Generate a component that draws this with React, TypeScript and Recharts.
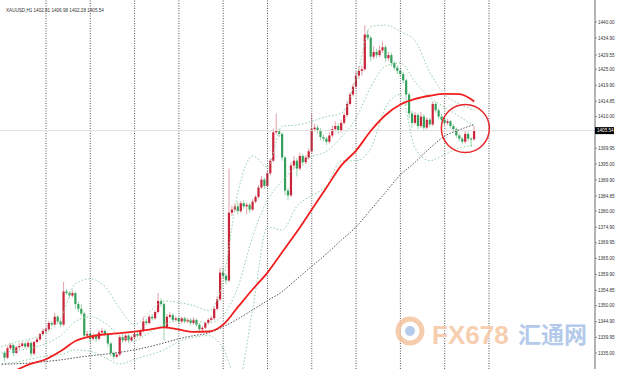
import React from 'react';
import { ComposedChart, Bar, Line, XAxis, YAxis, ReferenceLine, ReferenceDot } from 'recharts';

// XAUUSD H1 – candles (open = previous close)
const firstOpen = 1335.0;
const closes = [
  1333.5, 1336.5, 1337.5, 1335.0, 1336.8, 1337.2, 1338.0, 1337.0, 1338.2, 1334.8,
  1338.5, 1339.3, 1341.0, 1342.0, 1342.5, 1344.5, 1344.0, 1346.5, 1345.0, 1344.0,
  1354.5, 1354.0, 1353.2, 1354.0, 1350.5, 1349.0, 1347.5, 1340.5, 1341.0, 1339.5,
  1340.5, 1339.5, 1341.5, 1342.0, 1341.0, 1338.0, 1335.0, 1333.8, 1334.5, 1340.0,
  1339.0, 1340.5, 1339.0, 1340.0, 1341.0, 1340.5, 1342.0, 1345.0, 1344.5, 1346.5,
  1346.0, 1348.0, 1351.5, 1350.5, 1343.0, 1346.5, 1347.0, 1345.5, 1346.0, 1345.0,
  1346.0, 1345.0, 1345.5, 1344.5, 1345.5, 1344.0, 1342.5, 1343.0, 1344.5, 1345.5,
  1346.0, 1349.0, 1352.0, 1360.5, 1359.5, 1358.0, 1379.5, 1380.5, 1381.5, 1380.0,
  1382.5, 1381.5, 1382.0, 1380.5, 1383.0, 1384.5, 1387.5, 1390.0, 1388.0, 1392.0,
  1396.0, 1405.0, 1405.5, 1404.5, 1397.0, 1386.5, 1385.0, 1394.5, 1396.0, 1393.5,
  1397.5, 1395.5, 1397.0, 1399.0, 1406.0, 1406.5, 1405.5, 1403.5, 1403.0, 1402.0,
  1404.0, 1406.0, 1407.0, 1405.5, 1408.0, 1410.5, 1414.0, 1417.0, 1419.5, 1423.0,
  1424.5, 1425.0, 1436.0, 1435.0, 1429.0, 1430.5, 1429.5, 1431.0, 1432.0, 1428.5,
  1429.5, 1427.0, 1425.5, 1424.5, 1423.5, 1421.5, 1417.0, 1411.0, 1408.0, 1410.5,
  1407.0, 1410.0, 1406.5, 1409.0, 1407.5, 1414.0, 1412.0, 1410.0, 1409.0, 1408.0,
  1408.5, 1407.0, 1406.0, 1404.0, 1403.0, 1402.0, 1404.5, 1403.0, 1402.81, 1405.54,
];
const wickUp = [
  0.6, 0.8, 0.7, 0.4, 0.5, 1.0, 0.6, 0.5, 0.8, 0.5,
  0.4, 0.6, 0.5, 0.8, 0.6, 0.7, 0.5, 1.2, 0.6, 0.5,
  3.0, 0.8, 0.6, 0.9, 0.5, 0.8, 1.5, 0.6, 1.0, 0.8,
  0.7, 0.6, 0.8, 1.0, 0.5, 0.5, 0.6, 0.5, 0.8, 0.6,
  1.2, 0.6, 0.7, 0.6, 0.5, 0.8, 0.5, 1.5, 0.8, 0.6,
  0.8, 0.6, 2.5, 0.8, 0.5, 0.8, 0.9, 0.6, 0.7, 0.5,
  0.6, 0.5, 0.6, 0.5, 0.8, 0.5, 0.5, 0.6, 0.5, 0.6,
  0.8, 0.6, 1.0, 1.5, 1.5, 0.6, 14.0, 1.2, 1.0, 1.5,
  0.8, 0.9, 0.8, 0.6, 0.8, 0.6, 0.8, 1.2, 0.6, 0.8,
  0.8, 1.2, 5.5, 0.6, 0.5, 0.5, 0.8, 1.0, 1.5, 0.8,
  1.0, 0.6, 0.8, 0.8, 5.0, 1.2, 0.8, 0.8, 0.7, 0.6,
  1.0, 1.2, 1.5, 0.8, 1.0, 0.8, 1.0, 0.8, 1.0, 1.2,
  1.5, 1.2, 3.0, 1.5, 0.6, 1.8, 1.0, 1.5, 1.8, 0.6,
  1.0, 0.8, 0.6, 0.8, 0.7, 0.8, 0.5, 0.6, 0.8, 1.0,
  0.6, 1.5, 0.8, 0.8, 0.6, 0.8, 0.6, 0.6, 0.8, 0.6,
  0.7, 0.5, 0.6, 0.5, 0.6, 0.6, 1.0, 0.8, 0.5, 1.44,
];
const wickDown = [
  1.2, 0.5, 0.6, 1.0, 0.4, 0.5, 0.5, 0.6, 0.4, 1.0,
  0.5, 0.5, 0.4, 0.5, 0.7, 0.5, 0.6, 0.4, 0.8, 0.8,
  0.5, 0.6, 0.8, 0.5, 1.5, 1.0, 0.8, 1.0, 0.8, 1.2,
  0.6, 1.0, 0.5, 0.6, 0.8, 1.0, 1.0, 0.8, 0.5, 0.5,
  0.8, 0.5, 0.8, 0.5, 0.6, 0.7, 0.5, 0.5, 0.8, 0.5,
  0.7, 0.5, 0.5, 0.8, 4.0, 0.5, 0.6, 0.8, 0.6, 0.8,
  0.7, 0.6, 0.5, 0.8, 0.6, 0.7, 0.8, 0.6, 0.5, 0.5,
  0.5, 0.6, 0.5, 0.5, 0.8, 1.2, 0.5, 1.0, 0.8, 1.0,
  0.6, 0.8, 2.5, 1.0, 0.5, 0.5, 0.5, 0.5, 1.0, 0.5,
  0.6, 0.5, 0.8, 1.0, 1.0, 1.5, 1.5, 0.5, 1.0, 2.5,
  0.6, 1.2, 0.6, 0.6, 0.5, 0.8, 1.0, 1.0, 0.8, 1.0,
  0.5, 0.6, 0.8, 1.0, 0.6, 0.5, 0.6, 0.5, 0.6, 0.5,
  1.0, 1.5, 0.5, 0.8, 1.5, 0.8, 1.0, 0.6, 0.8, 1.2,
  0.8, 1.0, 0.8, 1.0, 0.8, 1.0, 3.5, 1.5, 1.5, 0.6,
  1.0, 0.6, 1.2, 0.6, 0.8, 0.5, 0.8, 0.8, 0.6, 0.8,
  0.6, 0.8, 0.8, 0.8, 0.9, 0.8, 0.6, 0.8, 2.5, 0.52,
];

// indicators, sampled every 5 bars
const maIndex = [0, 5, 10, 15, 20, 25, 30, 35, 40, 45, 50, 55, 60, 65, 70, 75, 80, 85, 90, 95, 100, 105, 110, 115, 120, 125, 130, 135, 140, 145, 150, 155, 160];
const redMa = [null, 1329.6, 1331.6, 1333.0, 1335.6, 1338.8, 1340.2, 1340.9, 1341.3, 1341.8, 1342.4, 1343.1, 1342.4, 1341.7, 1341.8, 1344.0, 1349.6, 1355.2, 1360.5, 1367.0, 1373.5, 1380.5, 1387.5, 1394.5, 1399.2, 1405.5, 1410.5, 1413.8, 1415.6, 1416.6, 1417.2, 1417.1, 1414.8];
const blackMa = [1331.4, 1331.6, 1331.8, 1332.3, 1332.8, 1333.5, 1334.1, 1334.6, 1335.2, 1336.0, 1337.0, 1338.2, 1339.5, 1340.5, 1341.3, 1343.3, 1345.8, 1348.7, 1351.6, 1354.5, 1358.5, 1362.5, 1366.5, 1370.8, 1375.0, 1380.5, 1386.0, 1391.5, 1395.5, 1400.0, 1403.8, 1405.8, 1407.5];
const bandUp = [1337.0, 1338.5, 1339.5, 1341.5, 1346.0, 1357.0, 1358.5, 1356.0, 1349.0, 1344.0, 1348.0, 1351.5, 1351.0, 1350.0, 1348.5, 1358.0, 1386.0, 1397.5, 1394.0, 1407.0, 1407.3, 1408.5, 1410.0, 1411.0, 1422.0, 1438.5, 1439.0, 1437.0, 1434.0, 1424.0, 1417.0, 1414.0, 1412.0];
const bandMid = [1335.0, 1335.8, 1336.5, 1338.0, 1340.5, 1345.0, 1346.5, 1344.5, 1340.5, 1339.0, 1341.5, 1344.0, 1345.5, 1345.3, 1344.5, 1347.0, 1356.0, 1372.0, 1383.5, 1389.6, 1394.4, 1397.3, 1399.0, 1403.5, 1409.5, 1419.5, 1426.0, 1427.0, 1421.0, 1416.0, 1413.0, 1410.0, 1407.0];
const bandLow = [1331.6, 1332.1, 1333.1, 1334.1, 1334.5, 1336.0, 1335.5, 1333.5, 1331.5, 1333.0, 1334.4, 1336.0, 1338.6, 1340.0, 1340.5, 1336.4, 1326.0, 1349.0, 1375.0, 1374.0, 1381.6, 1385.0, 1388.0, 1396.0, 1396.0, 1400.0, 1413.0, 1417.0, 1400.0, 1396.0, 1398.0, 1400.0, 1401.0];

const priceTicks = [1440.0, 1434.9, 1429.55, 1425.0, 1419.9, 1414.85, 1410.0, 1405.54, 1399.95, 1395.0, 1389.9, 1384.85, 1380.0, 1374.9, 1369.95, 1365.0, 1359.9, 1354.85, 1350.0, 1344.9, 1339.95, 1335.0];
const lastPrice = 1405.54;
const daySeparators = [15, 30, 45, 60, 75, 90, 105, 120, 135, 150, 165];
const title = 'XAUUSD,H1  1402.81 1406.98 1402.28 1405.54';

const rows: any[] = [];
for (let i = 0; i <= 160; i++) rows.push({ i });
closes.forEach((c, k) => {
  const open = k === 0 ? firstOpen : closes[k - 1];
  rows[k + 1] = {
    ...rows[k + 1],
    open,
    close: c,
    high: Math.max(open, c) + wickUp[k],
    low: Math.min(open, c) - wickDown[k],
  };
});
maIndex.forEach((idx, k) => {
  rows[idx] = { ...rows[idx], red: redMa[k], black: blackMa[k], up: bandUp[k], mid: bandMid[k], lo: bandLow[k] };
});

const AXIS_X = 595;
const FONT = '"Liberation Sans", Arial, sans-serif';

const Candle = (props: any) => {
  const { x, y, width, height, payload } = props;
  if (!payload || payload.open == null) return null;
  const { open, close, high, low } = payload;
  const h = Math.abs(height);
  const top = Math.min(y, y + height);
  const k = h / (high - low);
  const yOf = (v: number) => top + (high - v) * k;
  const up = close >= open;
  const cx = x + width / 2;
  const bTop = yOf(Math.max(open, close));
  const bH = Math.max(1, Math.abs(yOf(open) - yOf(close)));
  return (
    <g>
      <line x1={cx} x2={cx} y1={top} y2={top + h} stroke={up ? '#e3a1a9' : '#9dd3ae'} strokeWidth={1} />
      <rect x={cx - 1.1} y={bTop} width={2.2} height={bH} fill={up ? '#c9243a' : '#35a05c'} />
    </g>
  );
};

const PriceTick = (props: any) => {
  const { y, payload } = props;
  const v = payload.value;
  if (Math.abs(v - lastPrice) < 0.001) {
    return (
      <g>
        <rect x={AXIS_X} y={y - 3.5} width={19} height={7} fill="#000" />
        <text x={AXIS_X + 2} y={y + 1.7} fontSize={4.6} fill="#fff" fontFamily={FONT}>{v.toFixed(2)}</text>
      </g>
    );
  }
  return (
    <g>
      <line x1={AXIS_X} x2={AXIS_X + 2} y1={y} y2={y} stroke="#777" strokeWidth={0.8} />
      <text x={AXIS_X + 3} y={y + 1.7} fontSize={4.6} fill="#333" fontFamily={FONT}>{v.toFixed(2)}</text>
    </g>
  );
};

export default function App() {
  return (
    <div style={{ position: 'absolute', left: 0, top: 0, width: 617, height: 369, background: '#fff', overflow: 'hidden' }}>
      <ComposedChart width={617} height={369} data={rows} margin={{ top: 0, right: 0, bottom: 0, left: 0 }}>
        <XAxis dataKey="i" type="number" domain={[-0.58, 200.9]} hide allowDataOverflow />
        <YAxis
          orientation="right"
          type="number"
          domain={[1329.91, 1446.98]}
          allowDataOverflow
          ticks={priceTicks}
          interval={0}
          width={22}
          tickLine={false}
          axisLine={{ stroke: '#9a9a9a', strokeWidth: 1.5 }}
          tick={(p: any) => <PriceTick {...p} />}
        />
        {daySeparators.map((d) => (
          <ReferenceLine key={d} x={d} stroke="#555" strokeDasharray="1 1.5" strokeWidth={1} />
        ))}
        <ReferenceLine y={lastPrice} stroke="#dedede" strokeWidth={1} />
        <Line dataKey="up" type="monotone" stroke="#8fd0a4" strokeWidth={1} strokeDasharray="1.5 2" dot={false} activeDot={false} connectNulls isAnimationActive={false} />
        <Line dataKey="mid" type="monotone" stroke="#8fd0a4" strokeWidth={1} strokeDasharray="1.5 2" dot={false} activeDot={false} connectNulls isAnimationActive={false} />
        <Line dataKey="lo" type="monotone" stroke="#8fd0a4" strokeWidth={1} strokeDasharray="1.5 2" dot={false} activeDot={false} connectNulls isAnimationActive={false} />
        <Bar
          dataKey={(d: any) => (d.open == null ? null : [d.low, d.high])}
          barSize={3}
          shape={<Candle />}
          isAnimationActive={false}
        />
        <Line dataKey="black" type="monotone" stroke="#555" strokeWidth={1} strokeDasharray="1.5 1.5" dot={false} activeDot={false} connectNulls isAnimationActive={false} />
        <Line dataKey="red" type="monotone" stroke="#f01e1e" strokeWidth={1.8} dot={false} activeDot={false} connectNulls isAnimationActive={false} />
        <ReferenceDot x={157} y={1406.2} r={24} fill="none" stroke="#e8262b" strokeWidth={1.5} />
      </ComposedChart>
      <svg width={617} height={369} style={{ position: 'absolute', left: 0, top: 0, pointerEvents: 'none' }}>
        <text x={6} y={12} fontSize={4.6} fill="#333" fontFamily={FONT}>{title}</text>
        <g opacity={0.85}>
          <circle cx={410} cy={331} r={12} fill="none" stroke="#f4c4a0" strokeWidth={5} />
          <circle cx={410} cy={331} r={5} fill="#a9c2e6" />
          <text x={432} y={344} fontSize={26} fontWeight="bold" fill="#f6c7a3" fontFamily={FONT}>FX678</text>
          <text x={518} y={343} fontSize={23} fontWeight="bold" fill="#a6c1e7" fontFamily='"Noto Sans CJK SC", sans-serif'>汇通网</text>
        </g>
      </svg>
    </div>
  );
}
